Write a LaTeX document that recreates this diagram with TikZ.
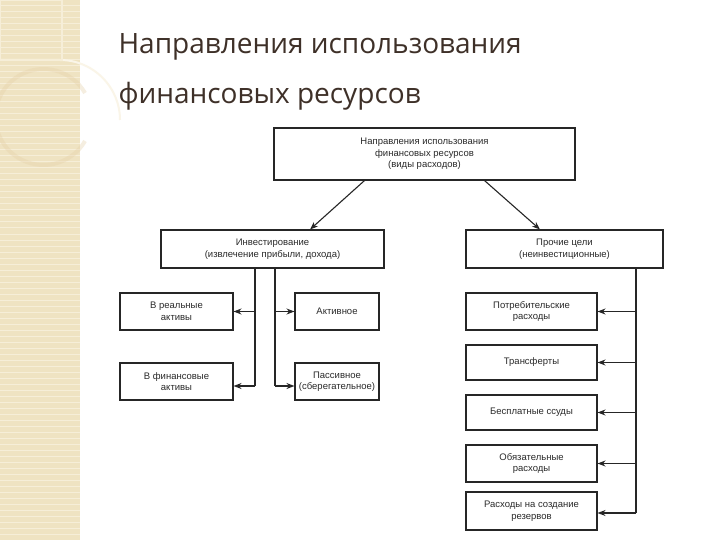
\documentclass[tikz,border=0pt]{standalone}
\usepackage{fontspec}
\setmainfont{Liberation Sans}
\newfontfamily\titlefont{Open Sans}
\usetikzlibrary{arrows.meta}
\definecolor{beige}{HTML}{EFE3C2}
\definecolor{beigel}{HTML}{F6EED8}
\definecolor{titlec}{HTML}{3E3028}
\definecolor{txt}{HTML}{2A2A2A}
\tikzset{
  box/.style={draw=black!85, line width=1.1pt, fill=white, align=center, font=\fontsize{9.5}{11.5}\selectfont, text=txt, inner sep=1pt},
  conn/.style={line width=1.1pt, draw=black!85},
  arr/.style={conn, -{Stealth[length=8pt,width=6pt]}}
}
\begin{document}
\begin{tikzpicture}[x=1pt,y=-1pt]
\useasboundingbox (0,0) rectangle (720,540);
\fill[white] (0,0) rectangle (720,540);
\fill[beige] (0,0) rectangle (80,540);
\foreach \y in {0,6,...,540} \draw[beigel, line width=1pt] (0,\y) -- (80,\y);
\draw[beigel!60!white, line width=2pt] (0,60) -- (60,60) arc[start angle=-90, end angle=0, radius=60];
\draw[beige!80!brown, line width=4pt, opacity=0.35] (85,93) arc[start angle=-30, end angle=-330, radius=48];
\draw[beigel, line width=2pt] (0,0) rectangle (62,60);
\node[anchor=west, font=\titlefont\fontsize{28}{32}\selectfont, text=titlec] (t1) at (115,47) {Направления использования};
\node[anchor=west, font=\titlefont\fontsize{28}{32}\selectfont, text=titlec] (t2) at (115,96) {финансовых ресурсов};

\node[box, minimum width=301pt, minimum height=52pt] (top) at (424.5,154) {Направления использования\\финансовых ресурсов\\(виды расходов)};
\node[box, minimum width=223pt, minimum height=38pt] (inv) at (272.5,249) {Инвестирование\\(извлечение прибыли, дохода)};
\node[box, minimum width=197pt, minimum height=38pt] (oth) at (564.5,249) {Прочие цели\\(неинвестиционные)};

\node[box, minimum width=113pt, minimum height=37pt] (real) at (176.5,311.5) {В реальные\\активы};
\node[box, minimum width=113pt, minimum height=37pt] (fin) at (176.5,381.5) {В финансовые\\активы};
\node[box, minimum width=84pt, minimum height=37pt] (act) at (337,311.5) {Активное};
\node[box, minimum width=84pt, minimum height=37pt] (pas) at (337,381.5) {Пассивное\\(сберегательное)};

\node[box, minimum width=131pt, minimum height=37pt] (r1) at (531.5,311.5) {Потребительские\\расходы};
\node[box, minimum width=131pt, minimum height=35pt] (r2) at (531.5,362.5) {Трансферты};
\node[box, minimum width=131pt, minimum height=35pt] (r3) at (531.5,412.5) {Бесплатные ссуды};
\node[box, minimum width=131pt, minimum height=37pt] (r4) at (531.5,463.5) {Обязательные\\расходы};
\node[box, minimum width=131pt, minimum height=38pt] (r5) at (531.5,511) {Расходы на создание\\резервов};

\draw[arr] (top.south) ++(-60,0) -- (310,229.5);
\draw[arr] (top.south) ++(60,0) -- (540,229.5);

\coordinate (l1) at (255,311.5);
\coordinate (l2) at (255,386);
\coordinate (m1) at (275,311.5);
\coordinate (m2) at (275,386);
\draw[conn] (inv.south -| l1) -- (l2);
\draw[conn] (inv.south -| m1) -- (m2);
\draw[arr] (l1) -- (real.east);
\draw[arr] (l2) -- (l2 -| fin.east);
\draw[arr] (m1) -- (act.west);
\draw[arr] (m2) -- (m2 -| pas.west);

\coordinate (v) at (636,513);
\draw[conn] (oth.south -| v) -- (v);
\foreach \n in {r1,r2,r3,r4} \draw[arr] (\n.east -| v) -- (\n.east);
\draw[arr] (v) -- (v -| r5.east);
\end{tikzpicture}
\end{document}
